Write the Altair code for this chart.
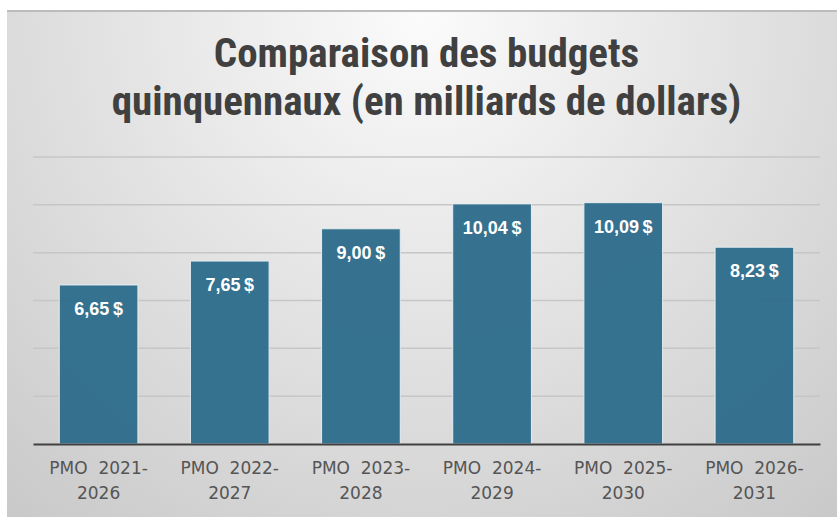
import altair as alt
import pandas as pd

categories = ["PMO 2021-2026", "PMO 2022-2027", "PMO 2023-2028",
              "PMO 2024-2029", "PMO 2025-2030", "PMO 2026-2031"]
values = [6.65, 7.65, 9.00, 10.04, 10.09, 8.23]
grid_values = [2, 4, 6, 8, 10, 12]
title_lines = ["Comparaison des budgets", "quinquennaux (en milliards de dollars)"]

W, H = 787, 287
PAD = {"left": 33, "top": 157, "right": 17, "bottom": 73}

labels = [f"{v:.2f}".replace(".", ",") + "\u2009$" for v in values]
df = pd.DataFrame({"cat": categories, "val": values, "lab": labels})

xenc = alt.X("cat:N", sort=categories, title=None,
             scale=alt.Scale(paddingInner=0.4, paddingOuter=0.2),
             axis=alt.Axis(labelAngle=0, ticks=False, domainColor="#404040",
                           domainWidth=2, labelColor="#555555", labelFont="DejaVu Sans",
                           labelFontSize=17, labelPadding=16, labelLineHeight=25,
                           labelExpr="[split(datum.label, ' ')[0] + '\u00a0 ' + split(split(datum.label, ' ')[1], '-')[0] + '-', split(datum.label, '-')[1]]",
                           zindex=1))
yscale = alt.Scale(domain=[0, 12], nice=False)

bg = alt.Chart(pd.DataFrame({"a": [0]})).mark_rect(
    fill=alt.Gradient(gradient="radial", x1=0.5, y1=0.2, r1=0.0, x2=0.5, y2=0.2, r2=0.8,
                      stops=[alt.GradientStop(color="#fbfbfb", offset=0),
                             alt.GradientStop(color="#c8c8c8", offset=1)])
).encode(x=alt.value(-26), x2=alt.value(W + PAD["right"]),
         y=alt.value(-146), y2=alt.value(H + PAD["bottom"]))

border = alt.Chart(pd.DataFrame({"a": [0]})).mark_rule(color="#bcbcbc", strokeWidth=2).encode(
    x=alt.value(-26), x2=alt.value(W + PAD["right"]), y=alt.value(-146))

grid = alt.Chart(pd.DataFrame({"g": grid_values})).mark_rule(
    color="#c6c6c6", strokeWidth=1.5).encode(y=alt.Y("g:Q", scale=yscale, axis=None))

bars = alt.Chart(df).mark_bar(color="#2F6E8D", opacity=0.96, stroke="#e6eef2",
                              strokeWidth=1).encode(
    x=xenc, y=alt.Y("val:Q", scale=yscale, axis=None))

text = alt.Chart(df).mark_text(color="white", fontWeight="bold", font="Liberation Sans",
                               fontSize=18, baseline="middle", dy=25).encode(
    x=alt.X("cat:N", sort=categories), y=alt.Y("val:Q", scale=yscale), text="lab:N")

chart = alt.layer(bg, border, grid, bars, text).properties(
    width=W, height=H,
    autosize=alt.AutoSizeParams(type="none"),
    padding=PAD,
    background="white",
    title=alt.TitleParams(text=title_lines, anchor="middle", fontSize=41, lineHeight=48,
                          font="Liberation Sans Narrow, Roboto Condensed, Roboto",
                          fontWeight="bold", color="#404040", offset=0, dy=114),
).configure_view(stroke=None)

chart.save("out.html", embed_options={"renderer": "svg", "actions": False})
